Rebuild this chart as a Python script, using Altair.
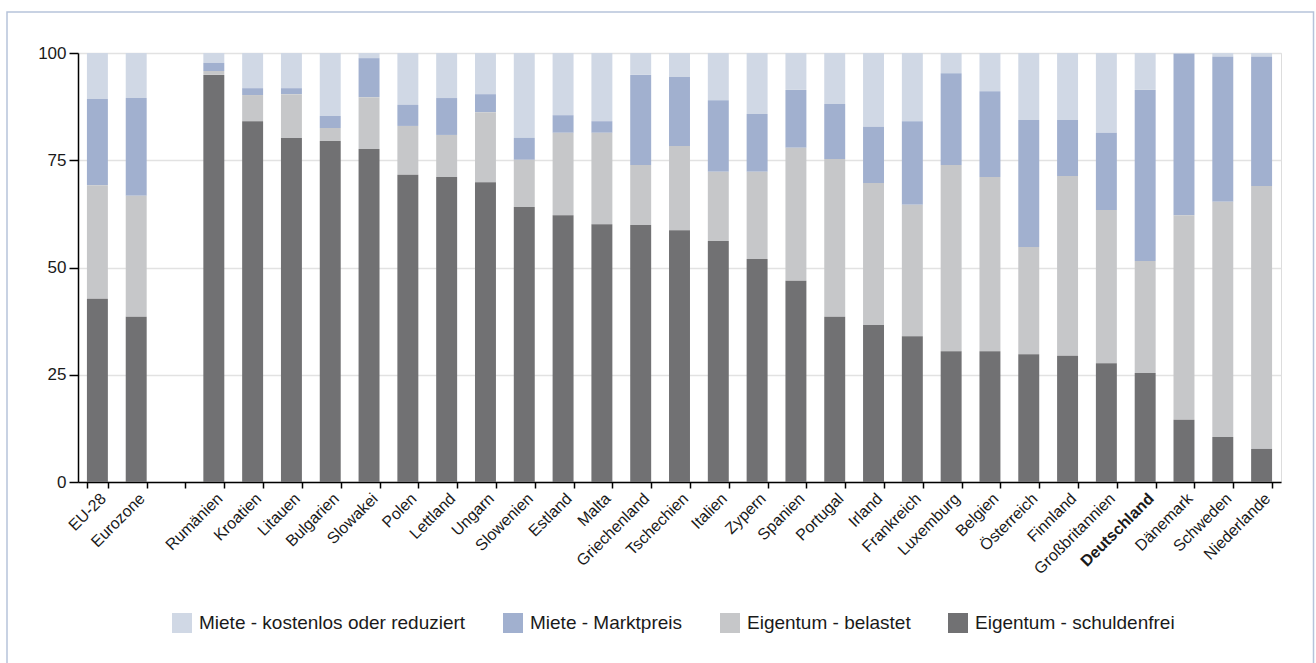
import altair as alt
import pandas as pd

# Categories along the x axis; the blank entry leaves an empty slot after the aggregates
categories = ["EU-28", "Eurozone", " ", "Rumänien", "Kroatien", "Litauen", "Bulgarien",
              "Slowakei", "Polen", "Lettland", "Ungarn", "Slowenien", "Estland", "Malta",
              "Griechenland", "Tschechien", "Italien", "Zypern", "Spanien", "Portugal",
              "Irland", "Frankreich", "Luxemburg", "Belgien", "Österreich", "Finnland",
              "Großbritannien", "Deutschland", "Dänemark", "Schweden", "Niederlande"]

countries = [c for c in categories if c.strip()]

# Shares in percent per country, bottom to top of each bar
eigentum_schuldenfrei = [42.7, 38.5, 94.9, 84.1, 80.2, 79.5, 77.6, 71.6, 71.1, 69.9, 64.1,
                         62.2, 60.1, 59.9, 58.7, 56.2, 52.0, 46.9, 38.5, 36.6, 34.0, 30.5,
                         30.5, 29.8, 29.4, 27.7, 25.4, 14.5, 10.5, 7.7]
eigentum_belastet = [26.5, 28.2, 0.9, 6.1, 10.2, 3.0, 12.1, 11.4, 9.8, 16.3, 11.0,
                     19.2, 21.3, 14.0, 19.6, 16.1, 20.3, 31.0, 36.8, 33.1, 30.6, 43.4,
                     40.6, 25.0, 41.9, 35.7, 26.1, 47.7, 54.8, 61.3]
miete_marktpreis = [20.1, 22.8, 1.9, 1.6, 1.4, 2.8, 9.1, 4.9, 8.6, 4.2, 5.1,
                    4.1, 2.7, 21.0, 16.1, 16.7, 13.5, 13.5, 12.8, 13.1, 19.5, 21.4,
                    20.0, 29.6, 13.1, 18.0, 39.9, 37.6, 33.8, 30.1]
miete_kostenlos = [10.7, 10.5, 2.3, 8.2, 8.2, 14.7, 1.2, 12.1, 10.5, 9.6, 19.8,
                   14.5, 15.9, 5.1, 5.6, 11.0, 14.2, 8.6, 11.9, 17.2, 15.9, 4.7,
                   8.9, 15.6, 15.6, 18.6, 8.6, 0.2, 0.9, 0.9]

series_names = ["Miete - kostenlos oder reduziert", "Miete - Marktpreis",
                "Eigentum - belastet", "Eigentum - schuldenfrei"]
series_values = [miete_kostenlos, miete_marktpreis, eigentum_belastet, eigentum_schuldenfrei]
series_colors = ["#d0d8e5", "#a1b0cf", "#c6c7c9", "#717173"]
stack_rank = [3, 2, 1, 0]  # schuldenfrei sits on the baseline

rows = []
for name, values, rank in zip(series_names, series_values, stack_rank):
    for country, v in zip(countries, values):
        rows.append({"Land": country, "Kategorie": name, "Anteil": v, "Rang": rank})
df = pd.DataFrame(rows)

FONT = "Liberation Sans"

bars = alt.Chart(df).mark_bar().encode(
    x=alt.X("Land:N", sort=categories,
            scale=alt.Scale(domain=categories, paddingInner=0.46, paddingOuter=0.23),
            axis=alt.Axis(title=None, labelAngle=-45, tickBand="extent", grid=False,
                          domainColor="#000000", domainWidth=1.5, tickColor="#000000",
                          tickWidth=1.5, tickSize=6, labelFontSize=16, labelColor="#1a1a1a",
                          labelFont=FONT, labelPadding=2,
                          labelFontWeight=alt.condition("datum.value == 'Deutschland'",
                                                        alt.value("bold"), alt.value("normal")))),
    y=alt.Y("Anteil:Q", stack="zero",
            scale=alt.Scale(domain=[0, 100], nice=False),
            axis=alt.Axis(title=None, values=[0, 25, 50, 75, 100], grid=True,
                          gridColor="#e2e2e2", gridWidth=1.5, domainColor="#000000",
                          domainWidth=1.5, tickColor="#000000", tickWidth=1.5, tickSize=9,
                          labelFontSize=17, labelColor="#1a1a1a", labelFont=FONT,
                          labelPadding=3)),
    color=alt.Color("Kategorie:N",
                    scale=alt.Scale(domain=series_names, range=series_colors),
                    legend=alt.Legend(title=None, orient="none", direction="horizontal",
                                      legendX=94, legendY=560, symbolType="square",
                                      symbolSize=400, symbolStrokeWidth=0, symbolOpacity=1,
                                      labelFontSize=19, labelFont=FONT, labelColor="#1a1a1a",
                                      labelOffset=7, columnPadding=37, labelLimit=400)),
    order=alt.Order("Rang:Q", sort="ascending"),
)

# Light frame around the whole graphic
frame = alt.Chart(pd.DataFrame({"f": [0]})).mark_rect(
    fill="transparent", stroke="#b6c3da", strokeWidth=1.5
).encode(x=alt.value(-71), x2=alt.value(1235.5), y=alt.value(-41), y2=alt.value(640))

chart = alt.layer(frame, bars).properties(
    width=1203, height=429,
    autosize=alt.AutoSizeParams(type="none"),
    padding={"left": 78, "top": 53, "right": 35, "bottom": 181},
).configure_view(stroke=None).configure(background="white")

chart.save("out.html", embed_options={"renderer": "svg", "actions": False})
